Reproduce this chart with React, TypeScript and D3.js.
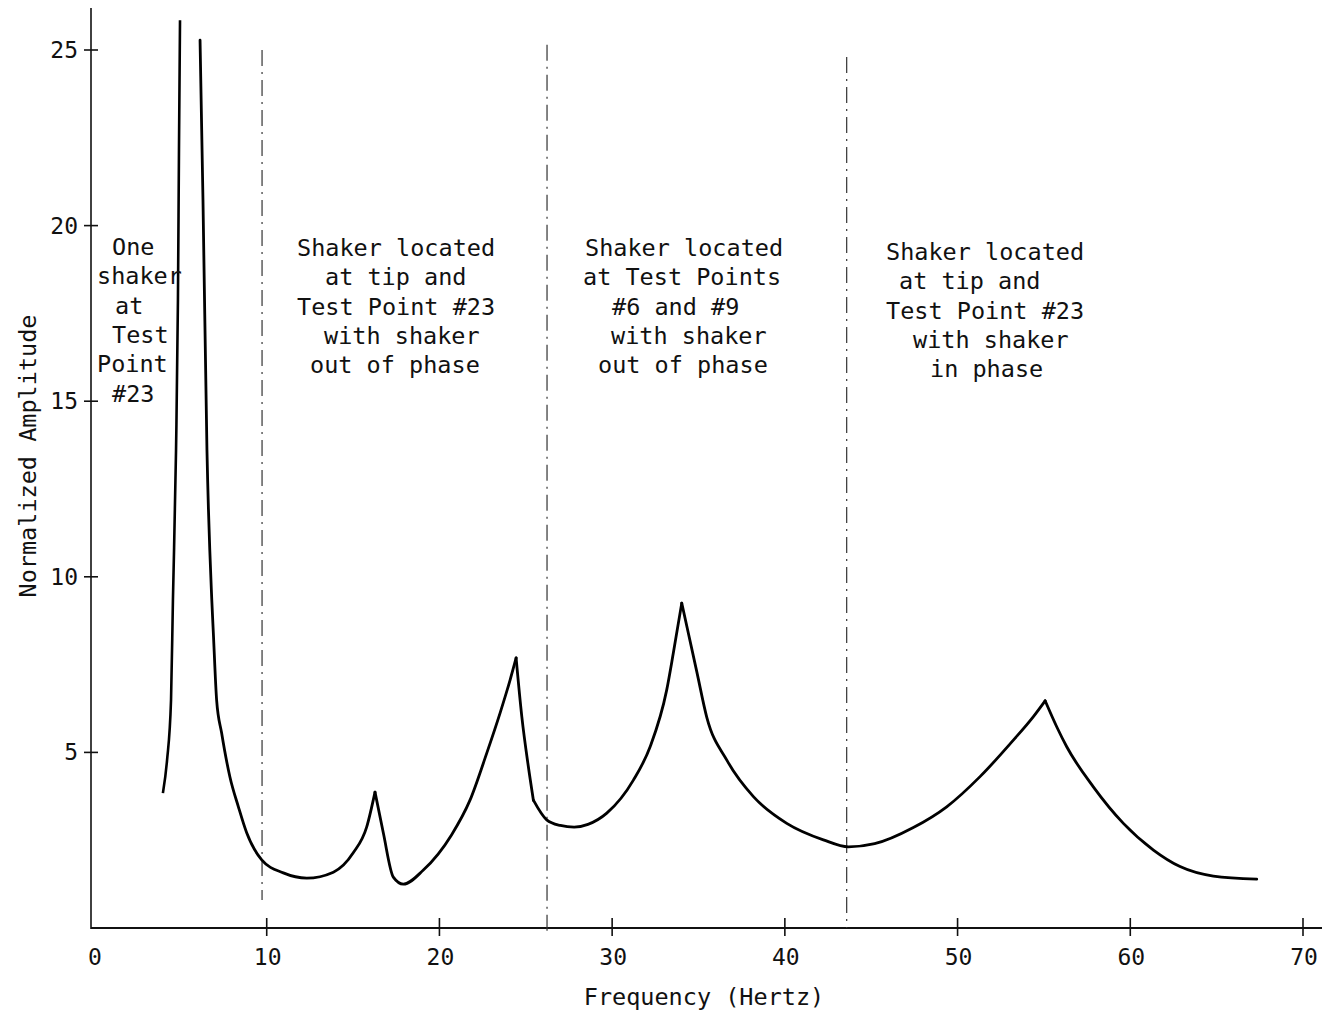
import React from "react";
import * as d3 from "d3";

// Rising flank of the first resonance (goes off the top of the plot)
const riseFreq = [3.99, 4.23, 4.46, 4.57, 4.75, 4.86, 4.92, 4.98];
const riseAmp = [3.84, 4.78, 6.49, 9.34, 13.61, 17.88, 22.15, 25.85];

// Remaining response curve
const respFreq = [
  6.14, 6.31, 6.54, 6.82, 6.91, 7.1, 7.39, 7.87, 8.36, 8.84, 9.71, 10.96, 12.32,
  13.86, 15.01, 15.79, 16.27, 16.75, 17.33, 17.91, 19.07, 20.7, 21.77, 22.74,
  23.51, 24.09, 24.44, 24.77, 25.15, 25.44, 26.21, 27.0, 27.8, 28.6, 29.69, 31.23,
  32.2, 33.16, 33.54, 34.03, 34.41, 34.9, 35.48, 36.64, 38.18, 40.11, 42.23,
  43.68, 45.2, 47.44, 49.37, 51.3, 53.23, 54.39, 55.07, 55.74, 56.32, 57.86,
  59.6, 61.34, 62.88, 64.81, 67.32,
];
const respAmp = [
  25.28, 20.73, 13.61, 9.34, 8.4, 6.49, 5.55, 4.3, 3.45, 2.71, 1.94, 1.57, 1.42,
  1.59, 2.14, 2.88, 3.87, 2.71, 1.45, 1.25, 1.65, 2.65, 3.64, 4.98,
  6.12, 7.06, 7.69, 6.02, 4.59, 3.64, 3.08, 2.92, 2.87, 2.95, 3.27, 4.21,
  5.16, 6.78, 7.82, 9.25, 8.4, 7.3, 6.0, 4.78, 3.74, 2.98, 2.51,
  2.31, 2.4, 2.86, 3.45, 4.31, 5.35, 6.02, 6.47, 5.73, 5.16, 4.02,
  2.98, 2.22, 1.75, 1.48, 1.39,
];

// Frequencies where the traced curve has a sharp corner (resonance cusps)
const cornerFreq = [16.27, 24.44, 25.44, 34.03, 55.07];

// Region boundaries (Hz) and their vertical extent (amplitude units)
const boundaryFreq = [9.73, 26.23, 43.58];
const boundaryTop = [25.0, 25.15, 24.8];
const boundaryBottom = [0.8, -0.2, 0.0];

const xTicks = [0, 10, 20, 30, 40, 50, 60, 70];
const yTicks = [5, 10, 15, 20, 25];

const annotations = [
  { lines: ["One", "shaker", "at", "Test", "Point", "#23"], x: [112, 97, 115, 112, 97, 112], y0: 255 },
  { lines: ["Shaker located", "at tip and", "Test Point #23", "with shaker", "out of phase"], x: [297, 325, 297, 324, 310], y0: 256 },
  { lines: ["Shaker located", "at Test Points", "#6 and #9", "with shaker", "out of phase"], x: [585, 583, 612, 611, 598], y0: 256 },
  { lines: ["Shaker located", "at tip and", "Test Point #23", "with shaker", "in phase"], x: [886, 899, 886, 913, 930], y0: 260 },
];

const FONT = "'DejaVu Sans Mono', 'Liberation Mono', monospace";

export default function App() {
  const W = 1334;
  const H = 1014;
  const x = d3.scaleLinear().domain([0, 70]).range([94, 1303]);
  const y = d3.scaleLinear().domain([0, 25]).range([928, 50]);
  const axisX = 91;

  const line = d3
    .line<[number, number]>()
    .x((d) => x(d[0]))
    .y((d) => y(d[1]))
    .curve(d3.curveMonotoneX);

  const rise = riseFreq.map((f, i) => [f, riseAmp[i]] as [number, number]);
  const resp = respFreq.map((f, i) => [f, respAmp[i]] as [number, number]);

  // split the response into pieces at the cusps so each corner stays sharp
  const pieces: [number, number][][] = [];
  let cur: [number, number][] = [];
  resp.forEach((p) => {
    cur.push(p);
    if (cornerFreq.includes(p[0])) {
      pieces.push(cur);
      cur = [p];
    }
  });
  if (cur.length > 1) pieces.push(cur);

  return (
    <svg width={W} height={H} style={{ display: "block", position: "absolute", left: 0, top: 0, background: "#fff" }}>
      <rect x={0} y={0} width={W} height={H} fill="#fff" />
      {/* axes */}
      <line x1={axisX} x2={axisX} y1={8} y2={929} stroke="#111" strokeWidth={1.6} />
      <line x1={axisX} x2={1322} y1={928} y2={928} stroke="#111" strokeWidth={1.8} />
      {yTicks.map((t) => (
        <g key={"y" + t}>
          <line x1={axisX - 7} x2={axisX + 7} y1={y(t)} y2={y(t)} stroke="#111" strokeWidth={1.6} />
          <text x={78} y={y(t) + 8} textAnchor="end" fontFamily={FONT} fontSize={23} fill="#111">
            {t}
          </text>
        </g>
      ))}
      {xTicks.map((t) => (
        <g key={"x" + t}>
          {t > 0 && <line x1={x(t)} x2={x(t)} y1={918} y2={936} stroke="#111" strokeWidth={1.6} />}
          <text x={x(t) + 1} y={965} textAnchor="middle" fontFamily={FONT} fontSize={23} fill="#111">
            {t}
          </text>
        </g>
      ))}
      {/* boundaries */}
      {boundaryFreq.map((f, i) => (
        <line
          key={"b" + i}
          x1={x(f)}
          x2={x(f)}
          y1={y(boundaryTop[i])}
          y2={y(boundaryBottom[i])}
          stroke="#333"
          strokeWidth={1.2}
          strokeDasharray="16 6 2 6"
        />
      ))}
      {/* curve */}
      <path d={line(rise) || ""} fill="none" stroke="#000" strokeWidth={2.6} />
      {pieces.map((pc, i) => (
        <path key={"p" + i} d={line(pc) || ""} fill="none" stroke="#000" strokeWidth={2.8} strokeLinejoin="round" strokeLinecap="round" />
      ))}
      {/* annotations */}
      {annotations.map((a, i) => (
        <g key={"a" + i}>
          {a.lines.map((l, j) => (
            <text key={j} x={a.x[j]} y={a.y0 + j * 29.3} fontFamily={FONT} fontSize={23.5} fill="#111">
              {l}
            </text>
          ))}
        </g>
      ))}
      {/* axis titles */}
      <text transform="translate(36,456) rotate(-90)" textAnchor="middle" fontFamily={FONT} fontSize={23.5} fill="#111">
        Normalized Amplitude
      </text>
      <text x={704} y={1005} textAnchor="middle" fontFamily={FONT} fontSize={23.5} fill="#111">
        Frequency (Hertz)
      </text>
    </svg>
  );
}
